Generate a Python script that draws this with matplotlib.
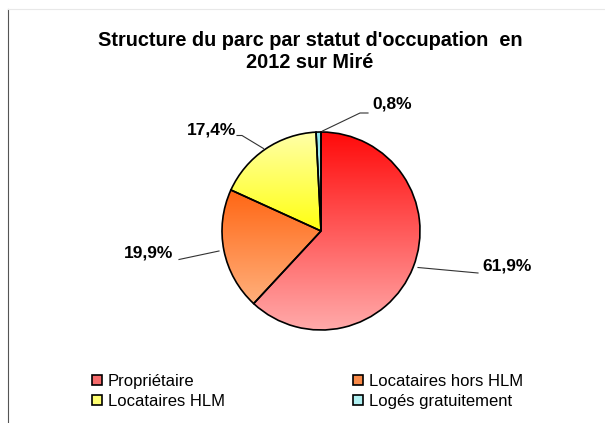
import matplotlib.pyplot as plt
import numpy as np
from matplotlib.colors import LinearSegmentedColormap
from matplotlib.lines import Line2D
from matplotlib.patches import Rectangle

plt.rcParams["font.family"] = ["Liberation Sans", "DejaVu Sans"]

categories = ["Propriétaire", "Locataires hors HLM", "Locataires HLM", "Logés gratuitement"]
shares = [61.9, 19.9, 17.4, 0.8]
value_labels = ["61,9%", "19,9%", "17,4%", "0,8%"]
# gradient top -> bottom for each slice
grad_top = ["#FF0A0A", "#FF6614", "#FFFFA8", "#8EE8EC"]
grad_bottom = ["#FFAAAA", "#FFB07C", "#FFFF10", "#D8FAFA"]
legend_colors = ["#F56A6A", "#F98A48", "#FFFF70", "#B0F0F2"]

W, H = 605, 423
fig = plt.figure(figsize=(W / 100, H / 100), dpi=100)

# pie axes: centre (321, 231) px, 1 unit = 100 px
cx, cy, half = 321, 231, 110
ax = fig.add_axes([(cx - half) / W, (H - cy - half) / H, 2 * half / W, 2 * half / H])
wedges, _ = ax.pie(shares, startangle=90, counterclock=False, radius=0.99,
                   wedgeprops=dict(edgecolor="black", linewidth=1.2))

grad = np.linspace(0, 1, 256).reshape(-1, 1)
for w, c0, c1 in zip(wedges, grad_top, grad_bottom):
    w.set_facecolor("none")
    ext = w.get_path().get_extents()
    cmap = LinearSegmentedColormap.from_list("g", [c0, c1])
    im = ax.imshow(grad, cmap=cmap, aspect="auto", interpolation="bicubic",
                   extent=(ext.x0, ext.x1, ext.y0, ext.y1), zorder=0.5)
    im.set_clip_path(w)
ax.set_xlim(-1.1, 1.1)
ax.set_ylim(-1.1, 1.1)
ax.set_aspect("equal")
ax.axis("off")

# leader lines and labels (pie units)
leaders = [
    [(0.97, -0.365), (1.57, -0.42)],
    [(-1.02, -0.20), (-1.42, -0.285)],
    [(-0.575, 0.825), (-0.79, 0.955), (-0.84, 0.955)],
    [(0.015, 1.0), (0.39, 1.18), (0.47, 1.18)],
]
text_pos = [(1.61, -0.345, "left"), (-1.48, -0.22, "right"),
            (-0.85, 1.01, "right"), (0.51, 1.27, "left")]
for pts, (tx, ty, ha), lab in zip(leaders, text_pos, value_labels):
    xs, ys = zip(*pts)
    ax.plot(xs, ys, color="#333333", lw=0.8, clip_on=False)
    ax.text(tx, ty, lab, ha=ha, va="center", fontsize=12.5, fontweight="bold",
            clip_on=False)

fig.text(310 / W, 1 - 40 / H, "Structure du parc par statut d'occupation  en",
         ha="center", va="center", fontsize=14.3, fontweight="bold")
fig.text(310 / W, 1 - 63 / H, "2012 sur Miré",
         ha="center", va="center", fontsize=14.3, fontweight="bold")

handles = [Rectangle((0, 0), 1, 1, facecolor=c, edgecolor="black", linewidth=1.2)
           for c in legend_colors]
order = [0, 2, 1, 3]
fig.legend([handles[i] for i in order], [categories[i] for i in order],
           ncol=2, frameon=False, loc="center left", bbox_to_anchor=(92 / W, 1 - 391.5 / H),
           fontsize=12, handlelength=0.6, handleheight=0.6, handletextpad=0.35,
           columnspacing=7.7, labelspacing=0.3, borderaxespad=0, borderpad=0)

# chart frame edges
fig.add_artist(Line2D([8 / W, 8 / W], [0, 1 - 9 / H], color="#555555", lw=0.8))
fig.add_artist(Line2D([8 / W, 1], [1 - 9 / H, 1 - 9 / H], color="#E8E8E8", lw=0.8))

fig.savefig("out.png", dpi=100)
